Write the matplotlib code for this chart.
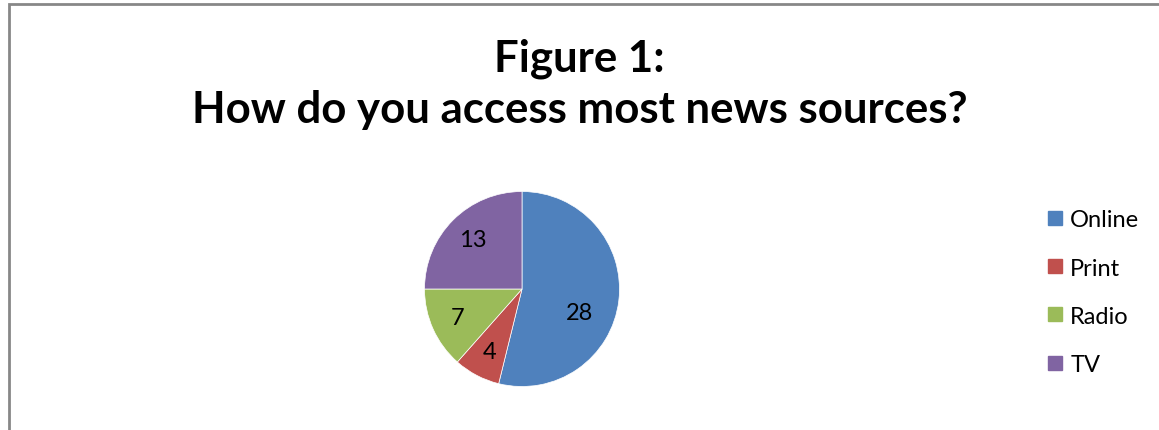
import numpy as np
import matplotlib
matplotlib.use("Agg")
import matplotlib.pyplot as plt
from matplotlib.patches import Rectangle
from matplotlib.lines import Line2D

plt.rcParams['font.family'] = ['Lato', 'DejaVu Sans']

#--------------------------------------------------------------------
#                     data
#--------------------------------------------------------------------
categories = ['Online', 'Print', 'Radio', 'TV']
counts = [28, 4, 7, 13]
colors = ['#4f81bd', '#c0504d', '#9bbb59', '#8064a2']

W, H = 1159, 431
fig = plt.figure(figsize=(W / 100, H / 100), dpi=100)
fig.patch.set_facecolor('white')

# chart frame (cut off at the right and bottom like the source)
fig.patches.append(Rectangle((8.5 / W, -0.1), 2.0, 1.1 - 4.5 / H,
                             transform=fig.transFigure, fill=False,
                             edgecolor='#878787', linewidth=2.0))

fig.text(0.5, 1 - 59 / H, 'Figure 1:', ha='center', va='center',
         fontsize=31.5, fontweight='bold')
fig.text(0.5, 1 - 110 / H, 'How do you access most news sources?',
         ha='center', va='center', fontsize=31.5, fontweight='bold')

#--------------------------------------------------------------------
#                     pie
#--------------------------------------------------------------------
cx, cy, r = 522, 290, 97.5
ax = fig.add_axes([(cx - r) / W, 1 - (cy + r) / H, 2 * r / W, 2 * r / H])
wedges, texts, autotexts = ax.pie(
    counts, colors=colors, startangle=90, counterclock=False,
    autopct=lambda p: '%d' % round(p * sum(counts) / 100.0),
    pctdistance=0.72, wedgeprops=dict(edgecolor='white', linewidth=0.5),
    textprops=dict(fontsize=17, color='black'))
ax.set_xlim(-1, 1)
ax.set_ylim(-1, 1)
ax.set_aspect('equal')
ax.axis('off')

# the big slice label sits a bit lower, as Excel's best fit does
w = wedges[0]
ang = np.deg2rad(w.theta1 + 0.42 * (w.theta2 - w.theta1))
autotexts[0].set_position((0.64 * np.cos(ang), 0.64 * np.sin(ang)))

#--------------------------------------------------------------------
#                     legend
#--------------------------------------------------------------------
handles = [Line2D([], [], marker='s', linestyle='none', markersize=10,
                  markerfacecolor=c, markeredgecolor=c) for c in colors]
lg = fig.legend(handles, categories, loc='upper left',
                bbox_to_anchor=(1036 / W, 1 - 201 / H), frameon=False,
                fontsize=17, handlelength=0.8, handletextpad=0.25,
                labelspacing=1.15, borderaxespad=0)

fig.savefig('out.png', dpi=100)
